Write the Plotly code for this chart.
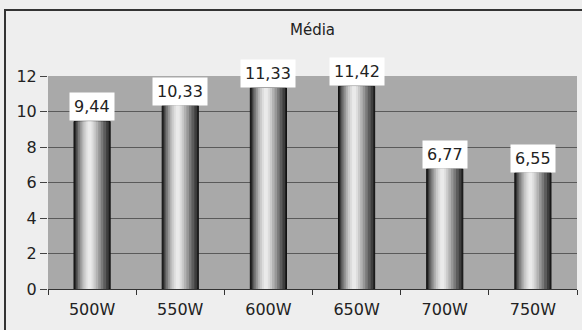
import plotly.graph_objects as go

categories = ["500W", "550W", "600W", "650W", "700W", "750W"]
values = [9.44, 10.33, 11.33, 11.42, 6.77, 6.55]
labels = ["9,44", "10,33", "11,33", "11,42", "6,77", "6,55"]
y_ticks = [0, 2, 4, 6, 8, 10, 12]

W, H = 582, 330
ML, MR, MT, MB = 48, 5, 76, 41
FONT = "DejaVu Sans, Verdana, sans-serif"

fig = go.Figure()

# Cylinder shading via overlaid bars of decreasing width (same data)
bar_w = 0.41
layers = [
    (1.00, 0.00, "#202020"),
    (0.92, 0.00, "#3e3e3e"),
    (0.82, -0.02, "#5c5c5c"),
    (0.70, -0.04, "#7a7a7a"),
    (0.58, -0.05, "#979797"),
    (0.46, -0.06, "#b2b2b2"),
    (0.34, -0.07, "#cacaca"),
    (0.22, -0.07, "#dddddd"),
    (0.11, -0.07, "#eaeaea"),
]
for i, (frac, shift, col) in enumerate(layers):
    w = bar_w * frac
    fig.add_trace(go.Bar(
        x=categories, y=values,
        width=[w] * len(values),
        offset=[-w / 2 + shift * bar_w] * len(values),
        marker=dict(color=col,
                    line=dict(color="#111111", width=1 if i == 0 else 0)),
        showlegend=False, hoverinfo="skip",
    ))

for c, v, t in zip(categories, values, labels):
    fig.add_annotation(x=c, y=v, text=t, showarrow=False, yanchor="bottom",
                       xref="x", yref="y", bgcolor="white", borderpad=4,
                       font=dict(family=FONT, size=16, color="#222222"))

pw = W - ML - MR
ph = H - MT - MB
# chart frame border
fig.add_shape(type="rect", xref="paper", yref="paper",
              x0=(5 - ML) / pw, x1=(W + 10 - ML) / pw,
              y0=-(H + 10 - MT - ph) / ph, y1=(H - 10 - MB) / ph,
              line=dict(color="#333333", width=2), fillcolor="rgba(0,0,0,0)",
              layer="below")

fig.update_layout(
    width=W, height=H,
    margin=dict(l=ML, r=MR, t=MT, b=MB),
    barmode="overlay",
    paper_bgcolor="#eeeeee",
    plot_bgcolor="#a9a9a9",
    title=dict(text="Média", x=0.5, xref="paper", y=1 - 30 / H, yanchor="middle",
               font=dict(family=FONT, size=15, color="#222222")),
    font=dict(family=FONT, color="#222222"),
    xaxis=dict(showgrid=False, showline=True, linecolor="#333333", linewidth=1,
               ticks="outside", tickson="boundaries", ticklen=5, tickcolor="#333333",
               ticklabelstandoff=6,
               tickfont=dict(size=16), fixedrange=True),
    yaxis=dict(range=[0, 12], tickvals=y_ticks, showgrid=True,
               gridcolor="#5a5a5a", gridwidth=1, zeroline=False,
               showline=False, ticks="outside", ticklen=7, tickcolor="#444444",
               tickwidth=1,
               tickfont=dict(size=16), fixedrange=True),
)

fig.write_html("out.html")
